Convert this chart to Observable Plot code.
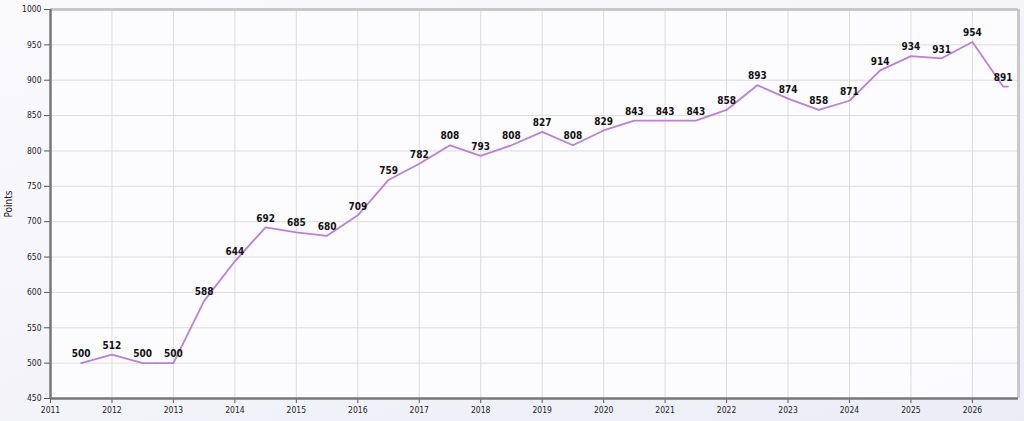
<!DOCTYPE html>
<html>
<head>
<meta charset="utf-8">
<script src="https://cdn.jsdelivr.net/npm/d3@7"></script>
<script src="https://cdn.jsdelivr.net/npm/@observablehq/plot@0.6"></script>
<style>
html,body{margin:0;padding:0;}
body{width:1024px;height:421px;overflow:hidden;background:linear-gradient(160deg,#fafafd 0%,#f2f2f9 60%,#ececf7 100%);}
#chart svg{display:block;}
</style>
</head>
<body>
<div id="chart"></div>
<script>
const years = [2011.5,2012,2012.5,2013,2013.5,2014,2014.5,2015,2015.5,2016,2016.5,2017,2017.5,2018,2018.5,2019,2019.5,2020,2020.5,2021,2021.5,2022,2022.5,2023,2023.5,2024,2024.5,2025,2025.5,2026,2026.5,2026.58];
const points = [500,512,500,500,588,644,692,685,680,709,759,782,808,793,808,827,808,829,843,843,843,858,893,874,858,871,914,934,931,954,891,891];
const showLabel = [1,1,1,1,1,1,1,1,1,1,1,1,1,1,1,1,1,1,1,1,1,1,1,1,1,1,1,1,1,1,1,0];
const xTicks = [2011,2012,2013,2014,2015,2016,2017,2018,2019,2020,2021,2022,2023,2024,2025,2026];
const yTicks = [450,500,550,600,650,700,750,800,850,900,950,1000];
const xDomain = [2011, 2026.75];
const yDomain = [450, 1000];

const data = years.map((x,i)=>({x, y: points[i], show: showLabel[i]}));
const font = "'DejaVu Sans Condensed','DejaVu Sans',sans-serif";

const chart = Plot.plot({
  width: 1024,
  height: 421,
  marginLeft: 50,
  marginRight: 6,
  marginTop: 9,
  marginBottom: 23,
  style: {background: "transparent", fontFamily: font, fontSize: "8.5px", color: "#222"},
  x: {domain: xDomain},
  y: {domain: yDomain},
  marks: [
    Plot.frame({fill: "#fcfcff", fillOpacity: 0.95, stroke: null}),
    Plot.gridX(xTicks, {stroke: "#dcdcdc", strokeOpacity: 1, strokeWidth: 1}),
    Plot.gridY(yTicks, {stroke: "#dcdcdc", strokeOpacity: 1, strokeWidth: 1}),
    Plot.ruleY([yDomain[1]], {stroke: "#c8c8c8", strokeWidth: 3}),
    Plot.ruleX([xDomain[1]], {stroke: "#c8c8c8", strokeWidth: 3}),
    Plot.axisY({ticks: yTicks, tickFormat: d => String(d), tickSize: 6, tickPadding: 3, stroke: "#555", label: null, fontSize: "8.5px"}),
    Plot.axisY({ticks: [], label: "Points", labelAnchor: "center", labelArrow: "none", labelOffset: 46, fontSize: "10px"}),
    Plot.axisX({ticks: xTicks, tickFormat: d => String(d), tickSize: 5, tickPadding: 3, stroke: "#555", label: null, fontSize: "8.5px"}),
    Plot.ruleX([xDomain[0]], {stroke: "#777", strokeWidth: 2.5}),
    Plot.ruleY([yDomain[0]], {stroke: "#777", strokeWidth: 2.5}),
    Plot.line(data, {x: "x", y: "y", stroke: "#bb7fd9", strokeWidth: 1.8}),
    Plot.text(data.filter(d => d.show), {x: "x", y: "y", text: d => String(d.y), dy: -9, fontWeight: "bold", fontSize: 10, fill: "#111", fontFamily: font})
  ]
});
document.getElementById("chart").appendChild(chart);
</script>
</body>
</html>
